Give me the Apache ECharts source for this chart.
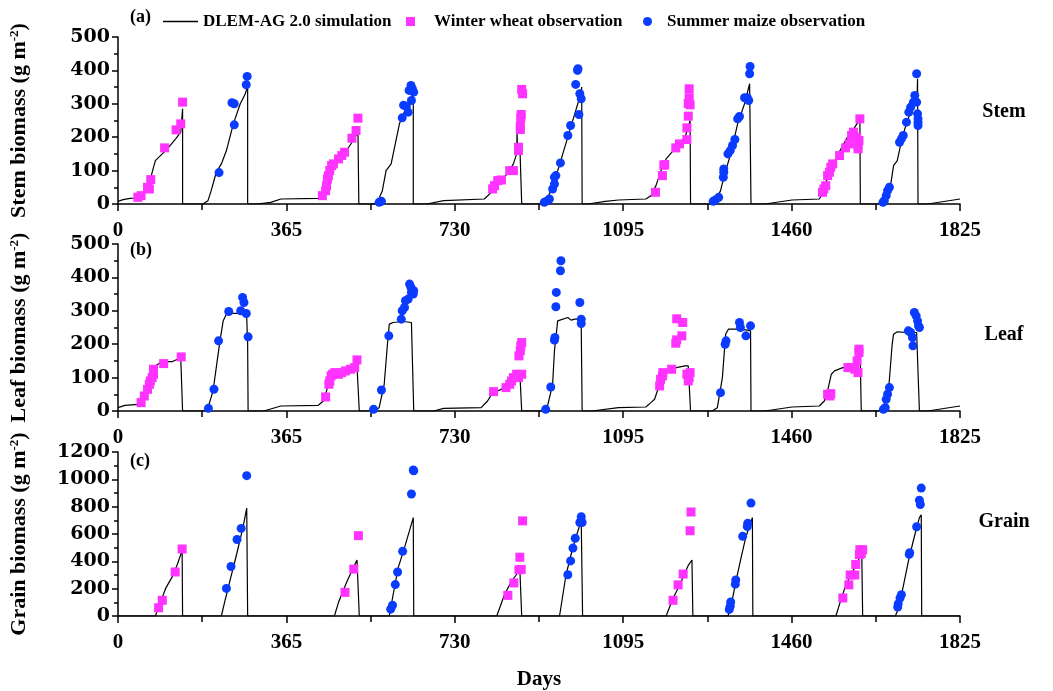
<!DOCTYPE html>
<html><head><meta charset="utf-8">
<script src="https://cdn.jsdelivr.net/npm/echarts@6/dist/echarts.min.js"></script>
<style>html,body{margin:0;padding:0;background:#fff}#c{width:1053px;height:691px}</style>
</head><body><div id="c"></div>
<script>
const FONT = '"Liberation Serif","Times New Roman",serif';
const YFONT = '"DejaVu Serif","Liberation Serif",serif';
const xTicks = [0, 365, 730, 1095, 1460, 1825];
const panelLetters = ['(a)', '(b)', '(c)'];
const panelNames = ['Stem', 'Leaf', 'Grain'];
const yTitles = ['Stem biomass (g m', 'Leaf biomass (g m', 'Grain biomass (g m'];
const yMax = [500, 500, 1200];
const yStep = [100, 100, 200];
const seriesNames = ['DLEM-AG 2.0 simulation', 'Winter wheat observation', 'Summer maize observation'];

// ---- Stem biomass (g m-2) ----
const stemSim = [[0,8],[11,13],[26,17],[40,18],[51,25],[66,50],[75,100],[81,130],[96,150],[110,170],[125,195],[136,215],[140,285],[140,0],
 [184,0],[195,10],[202,40],[213,95],[224,120],[235,160],[250,240],[265,300],[276,330],[281,355],[281,0],
 [301,0],[331,5],[353,15],[434,17],[441,22],[448,45],[454,80],[459,110],[467,125],[478,135],[493,155],[507,185],[518,210],[520,230],[522,235],[522,0],
 [555,0],[562,5],[573,40],[581,100],[592,120],[610,240],[625,290],[636,320],[640,330],[640,0],
 [669,0],[706,10],[794,15],[809,35],[816,50],[831,70],[846,95],[857,120],[864,150],[865,215],[866,160],[871,175],[875,175],[875,0],
 [920,0],[927,5],[938,40],[946,70],[959,125],[964,150],[975,200],[990,270],[1003,330],[1005,350],[1006,0],
 [1019,0],[1056,8],[1085,12],[1144,15],[1155,25],[1166,55],[1177,100],[1188,135],[1210,170],[1229,200],[1236,230],[1240,250],[1241,0],
 [1284,0],[1295,10],[1306,40],[1313,80],[1328,150],[1343,240],[1358,300],[1369,360],[1371,363],[1372,0],
 [1402,0],[1461,12],[1520,15],[1527,30],[1538,80],[1550,120],[1565,160],[1579,195],[1597,230],[1604,245],[1608,255],[1609,0],
 [1652,0],[1663,20],[1675,60],[1681,115],[1689,130],[1700,200],[1711,250],[1726,300],[1732,320],[1733,375],[1734,0],
 [1755,0],[1825,15]];
const stemWheat = [[43,20],[50,25],[64,50],[68,45],[71,73],[101,168],[126,222],[136,240],[140,305],
 [443,25],[450,40],[452,55],[454,75],[456,85],[459,100],[463,115],[467,120],[478,135],[485,145],[491,155],[507,197],[516,220],[520,257],
 [812,45],[816,55],[823,70],[831,72],[849,100],[857,100],[868,160],[868,170],[872,223],[872,233],[873,258],[874,268],[875,343],[877,330],
 [1165,35],[1180,85],[1183,116],[1185,118],[1209,168],[1217,180],[1233,193],[1233,228],[1236,263],[1236,301],[1238,318],[1238,345],[1240,297],
 [1527,35],[1530,45],[1534,55],[1538,85],[1542,95],[1545,110],[1549,120],[1564,145],[1577,168],[1585,180],[1590,205],[1594,215],[1601,200],[1604,175],[1604,165],[1608,255],[1606,190]];
const stemMaize = [[219,94],[247,303],[252,237],[252,300],[278,357],[280,382],
 [566,5],[571,8],[616,258],[619,296],[625,292],[629,275],[631,340],[635,355],[636,310],[638,345],[641,335],
 [924,5],[931,10],[935,15],[942,45],[946,60],[946,80],[949,85],[959,123],[975,205],[981,235],[992,358],[996,400],[997,405],[999,268],[1001,330],[1004,315],
 [1290,8],[1295,12],[1302,20],[1312,80],[1313,95],[1313,105],[1322,150],[1327,160],[1332,175],[1337,193],[1343,255],[1347,262],[1358,318],[1364,318],[1367,310],[1369,390],[1370,412],
 [1658,5],[1661,10],[1665,25],[1668,40],[1672,50],[1694,185],[1698,195],[1702,205],[1709,245],[1714,275],[1718,290],[1724,305],[1727,325],[1731,305],[1733,270],[1734,255],[1734,245],[1734,235],[1731,390]];

// ---- Leaf biomass (g m-2) ----
const leafSim = [[0,10],[15,17],[44,20],[51,30],[66,60],[75,110],[81,135],[92,145],[107,148],[118,148],[129,155],[136,160],[139,155],[140,0],
 [187,0],[195,10],[206,60],[215,150],[221,210],[228,270],[235,290],[250,292],[265,292],[276,295],[279,280],[281,200],[282,0],
 [316,0],[353,15],[434,17],[445,30],[452,60],[459,95],[470,110],[485,120],[507,128],[518,135],[521,135],[523,0],
 [555,0],[566,10],[577,80],[584,200],[588,260],[596,265],[618,268],[636,265],[640,260],[641,0],
 [684,0],[706,8],[787,10],[801,30],[812,55],[823,60],[838,70],[853,85],[864,105],[871,115],[874,110],[875,0],
 [920,0],[931,15],[942,80],[946,180],[953,270],[957,275],[975,280],[982,272],[990,275],[1003,275],[1004,260],[1006,0],
 [1027,0],[1085,10],[1144,12],[1155,25],[1163,35],[1174,80],[1181,115],[1196,125],[1210,130],[1229,135],[1236,135],[1240,130],[1241,0],
 [1288,0],[1299,10],[1310,100],[1317,230],[1323,245],[1336,245],[1347,245],[1365,242],[1371,240],[1372,0],
 [1402,0],[1461,12],[1520,15],[1531,30],[1538,60],[1546,110],[1553,120],[1571,130],[1597,135],[1604,140],[1609,138],[1611,0],
 [1648,0],[1659,10],[1670,60],[1678,200],[1681,230],[1689,237],[1711,235],[1731,235],[1735,230],[1737,0],
 [1755,0],[1825,15]];
const leafWheat = [[50,25],[57,45],[64,65],[68,80],[70,90],[74,100],[77,110],[77,125],[99,142],[137,162],
 [450,42],[457,80],[459,90],[462,105],[465,110],[470,115],[478,110],[485,115],[493,120],[504,125],[513,130],[518,153],
 [814,58],[841,70],[849,80],[853,90],[857,100],[864,110],[868,100],[869,165],[872,180],[873,195],[875,205],[875,110],
 [1174,75],[1176,95],[1180,105],[1181,115],[1200,125],[1209,203],[1211,213],[1211,276],[1222,225],[1224,265],[1233,110],[1236,90],[1238,100],[1240,115],
 [1538,50],[1543,45],[1545,52],[1582,130],[1590,130],[1597,125],[1604,115],[1602,150],[1606,175],[1606,185]];
const leafMaize = [[196,8],[208,65],[218,210],[240,298],[266,300],[270,340],[273,325],[278,292],[282,222],
 [554,5],[571,63],[587,225],[614,275],[616,300],[621,310],[623,330],[629,335],[632,380],[635,370],[636,355],[640,350],[641,360],
 [927,5],[938,72],[946,212],[947,220],[949,312],[950,355],[959,420],[960,450],[1001,325],[1004,275],[1004,262],
 [1306,55],[1316,200],[1318,210],[1347,265],[1349,250],[1361,225],[1371,255],
 [1659,5],[1663,10],[1665,35],[1668,50],[1672,70],[1713,240],[1718,235],[1722,220],[1723,195],[1726,295],[1730,285],[1733,270],[1735,255],[1737,250]];

// ---- Grain biomass (g m-2) ----
const grainSim = [[0,0],[81,0],[92,100],[103,200],[118,290],[129,380],[139,480],[140,0],
 [224,0],[231,100],[242,250],[257,450],[271,650],[279,790],[281,0],
 [469,0],[478,100],[496,250],[511,360],[518,410],[522,410],[523,0],
 [588,0],[596,150],[607,350],[621,500],[640,720],[641,0],
 [821,0],[837,150],[852,250],[863,300],[871,340],[875,0],
 [957,0],[964,150],[971,300],[982,450],[993,580],[1004,700],[1007,0],
 [1188,0],[1203,130],[1218,230],[1229,320],[1236,370],[1244,410],[1246,0],
 [1322,0],[1328,60],[1339,250],[1350,420],[1361,580],[1371,680],[1375,720],[1376,0],
 [1556,0],[1567,120],[1578,230],[1593,330],[1604,400],[1612,470],[1614,0],
 [1685,0],[1693,70],[1704,250],[1715,430],[1726,580],[1737,720],[1741,740],[1742,0],[1825,0]];
const grainWheat = [[88,60],[96,115],[124,322],[139,490],
 [492,173],[511,343],[521,588],
 [845,151],[858,242],[869,338],[871,430],[874,341],[877,696],
 [1203,115],[1214,228],[1225,307],[1240,624],[1242,761],
 [1571,132],[1584,228],[1587,300],[1597,300],[1599,377],[1607,449],[1608,485],[1614,485],[1611,456]];
const grainMaize = [[235,202],[245,362],[258,560],[267,641],[279,1027],
 [591,50],[595,79],[601,230],[606,322],[617,473],[636,893],[640,1068],[641,1062],
 [975,302],[981,403],[986,497],[991,569],[1001,684],[1004,727],[1006,684],
 [1325,48],[1327,72],[1328,103],[1338,233],[1339,264],[1354,583],[1364,655],[1365,679],[1372,826],
 [1690,65],[1691,89],[1695,132],[1698,156],[1715,451],[1716,463],[1731,653],[1737,847],[1739,816],[1741,936]];

const sims = [stemSim, leafSim, grainSim];
const wheats = [stemWheat, leafWheat, grainWheat];
const maizes = [stemMaize, leafMaize, grainMaize];

const PINK = '#ff33ff', BLUE = '#0a3cff';
const gridTops = [37, 244, 452];
const gridHeights = [167, 167, 166];

const bold = (size, fam) => ({ fontFamily: fam || FONT, fontWeight: 'bold', fontSize: size, color: '#000' });
const plain = v => String(v);
const grid = [], xAxis = [], yAxis = [], series = [];
for (let i = 0; i < 3; i++) {
  grid.push({ left: 117, width: 843, top: gridTops[i], height: gridHeights[i] });
  xAxis.push({
    type: 'value', gridIndex: i, min: xTicks[0], max: xTicks[xTicks.length - 1], interval: 365,
    axisLine: { show: true, onZero: false, lineStyle: { color: '#000', width: 1.5 } },
    axisTick: { show: true, length: 7, lineStyle: { color: '#000', width: 1.5 } },
    minorTick: { show: true, splitNumber: 2, length: 6, lineStyle: { color: '#000', width: 1.5 } },
    splitLine: { show: false },
    axisLabel: Object.assign(bold(21), { margin: 16, formatter: plain }),
    name: i === 2 ? 'Days' : '', nameLocation: 'middle', nameGap: 53,
    nameTextStyle: bold(21)
  });
  yAxis.push({
    type: 'value', gridIndex: i, min: 0, max: yMax[i], interval: yStep[i],
    axisLine: { show: true, lineStyle: { color: '#000', width: 1.5 } },
    axisTick: { show: true, length: 6, lineStyle: { color: '#000', width: 1.5 } },
    minorTick: { show: true, splitNumber: 2, length: 4, lineStyle: { color: '#000', width: 1.5 } },
    splitLine: { show: false },
    axisLabel: Object.assign(bold(19, YFONT), { margin: 8, formatter: plain }),
    name: '{a|' + yTitles[i] + '}{s|-2}{a|)}', nameLocation: 'middle', nameRotate: 90, nameGap: 88,
    nameTextStyle: { rich: { a: bold(22), s: Object.assign(bold(13), { verticalAlign: 'top' }) } }
  });
  series.push({ name: seriesNames[0], type: 'line', xAxisIndex: i, yAxisIndex: i, data: sims[i],
    symbol: 'none', lineStyle: { color: '#000', width: 1.2 }, itemStyle: { color: '#000' }, z: 2 });
  series.push({ name: seriesNames[1], type: 'scatter', xAxisIndex: i, yAxisIndex: i, data: wheats[i],
    symbol: 'rect', symbolSize: 9, itemStyle: { color: PINK, opacity: 1 }, z: 3 });
  series.push({ name: seriesNames[2], type: 'scatter', xAxisIndex: i, yAxisIndex: i, data: maizes[i],
    symbol: 'circle', symbolSize: 9, itemStyle: { color: BLUE, opacity: 1 }, z: 3 });
}

const legendText = bold(17);
const graphic = [];
const letterY = [18, 251, 462];
for (let i = 0; i < 3; i++) {
  graphic.push({ type: 'text', left: 130, top: letterY[i] - 10,
    style: { text: panelLetters[i], font: 'bold 18px ' + FONT, fill: '#000' } });
}
const nameY = [112, 335, 522];
for (let i = 0; i < 3; i++) {
  graphic.push({ type: 'text', x: 1004, y: nameY[i],
    style: { text: panelNames[i], font: 'bold 20px ' + FONT, fill: '#000', align: 'center', verticalAlign: 'middle' } });
}

const option = {
  backgroundColor: '#fff',
  animation: false,
  grid, xAxis, yAxis, series, graphic,
  legend: [
    { data: [{ name: seriesNames[0], icon: 'path://M0,0 H35 V1.5 H0 Z' }], left: 158, top: 8, itemWidth: 35, itemHeight: 1.5,
      textStyle: legendText },
    { data: [{ name: seriesNames[1], icon: 'rect' }], left: 401, top: 8, itemWidth: 9, itemHeight: 9,
      textStyle: Object.assign({}, legendText, { padding: [0, 0, 0, 14] }) },
    { data: [{ name: seriesNames[2], icon: 'circle' }], left: 638, top: 8, itemWidth: 9, itemHeight: 9,
      textStyle: Object.assign({}, legendText, { padding: [0, 0, 0, 10] }) }
  ]
};
const chart = echarts.init(document.getElementById('c'), null, { renderer: 'canvas' });
chart.setOption(option);
</script></body></html>
